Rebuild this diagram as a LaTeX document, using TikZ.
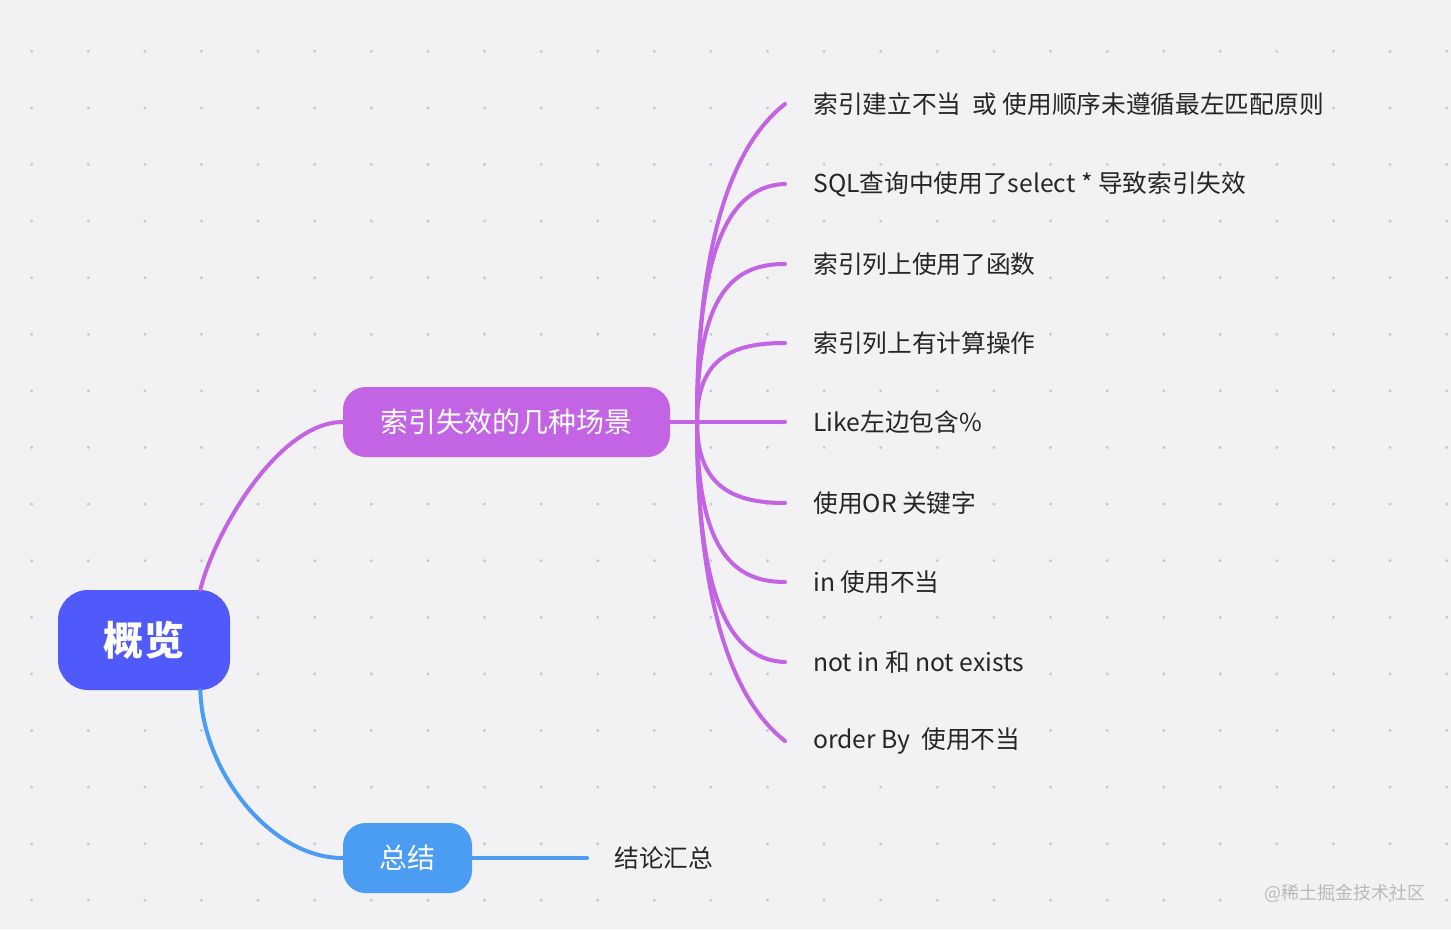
\documentclass[tikz,border=0pt]{standalone}
\usepackage{fontspec}
\setmainfont{Noto Sans CJK SC}
\usepackage{tikz}
\usepackage{xcolor}
\usetikzlibrary{positioning,calc}

\definecolor{canvas}{HTML}{F2F2F5}
\definecolor{dotgray}{HTML}{C6C7CC}
\definecolor{rootblue}{HTML}{5059F9}
\definecolor{topicpurple}{HTML}{C264E4}
\definecolor{topicblue}{HTML}{4A9DF3}
\definecolor{leafgray}{HTML}{262626}

\begin{document}
\begin{tikzpicture}[
    rootbox/.style={rectangle, rounded corners=0.6cm, fill=rootblue, text=white, minimum width=3.44cm, minimum height=2cm, inner sep=0pt, font=\fontsize{22.8}{26}\selectfont\bfseries},
    topic/.style={rectangle, rounded corners=0.45cm, text=white, minimum height=1.4cm, inner sep=0pt, font=\fontsize{15.9}{18}\selectfont},
    leaf/.style={anchor=west, inner xsep=0pt, inner ysep=3pt, fill=canvas, text=leafgray, font=\fontsize{14.05}{17}\selectfont},
    link/.style={line width=0.08cm, line cap=round},
    griddot/.style={fill=dotgray}
]

% Canvas
\fill[canvas] (0,0) rectangle (29.02,18.58);
\useasboundingbox (0,0) rectangle (29.02,18.58);

% Dot grid
\foreach \i in {0,...,25}
  \foreach \j in {0,...,15}
    \fill[griddot] (0.634+1.132*\i, 17.554-1.132*\j) circle (0.032);

% Main topics
\node[rootbox] (overview) at (2.88, 5.78) {概览};
\node[topic, fill=topicpurple, minimum width=6.54cm] (cases) at (10.13, 10.14) {索引失效的几种场景};
\node[topic, fill=topicblue, minimum width=2.58cm] (summary) at (8.15, 1.42) {总结};

% Branch point of the cases
\coordinate (fork) at (13.94, 10.14);

% Cases
\node[leaf] (c1) at (16.26, 16.50) {索引建立不当\ \ 或 使用顺序未遵循最左匹配原则};
\node[leaf] (c2) at (16.26, 14.90) {SQL查询中使用了select * 导致索引失效};
\node[leaf] (c3) at (16.26, 13.30) {索引列上使用了函数};
\node[leaf] (c4) at (16.26, 11.72) {索引列上有计算操作};
\node[leaf] (c5) at (16.26, 10.14) {Like左边包含\%};
\node[leaf] (c6) at (16.26, 8.52) {使用OR 关键字};
\node[leaf] (c7) at (16.26, 6.94) {in 使用不当};
\node[leaf] (c8) at (16.26, 5.34) {not in 和 not exists};
\node[leaf] (c9) at (16.26, 3.76) {order By\ \ 使用不当};

% Summary
\node[leaf] (s1) at (12.28, 1.42) {结论汇总};

% Connections
\draw[link, topicpurple] ([xshift=-0.6cm]overview.north east) .. controls +(0.3,1.2) and +(-1.26,0) .. (cases.west);
\draw[link, topicblue] ([xshift=-0.6cm]overview.south east) .. controls +(0.04,-1.6) and +(-1.46,0) .. (summary.west);
\draw[link, topicpurple] (cases.east) -- (fork);

\draw[link, topicpurple] (fork) .. controls +(0,3.22) and +(-1.2,-0.94) .. ([xshift=-0.56cm]c1.west);
\draw[link, topicpurple] (fork) .. controls +(0,3.02) and +(-1.3,-0.04) .. ([xshift=-0.56cm]c2.west);
\draw[link, topicpurple] (fork) .. controls +(0,2.62) and +(-1.0,0) .. ([xshift=-0.56cm]c3.west);
\draw[link, topicpurple] (fork) .. controls +(0,1.32) and +(-1.0,0) .. ([xshift=-0.56cm]c4.west);
\draw[link, topicpurple] (fork) -- ([xshift=-0.56cm]c5.west);
\draw[link, topicpurple] (fork) .. controls +(0,-1.32) and +(-1.0,0) .. ([xshift=-0.56cm]c6.west);
\draw[link, topicpurple] (fork) .. controls +(0,-2.62) and +(-1.0,0) .. ([xshift=-0.56cm]c7.west);
\draw[link, topicpurple] (fork) .. controls +(0,-3.02) and +(-1.3,0.04) .. ([xshift=-0.56cm]c8.west);
\draw[link, topicpurple] (fork) .. controls +(0,-3.22) and +(-1.2,0.94) .. ([xshift=-0.56cm]c9.west);

\draw[link, topicblue] (summary.east) -- ([xshift=-0.54cm]s1.west);

% Watermark
\node[text=gray!55, font=\fontsize{10.2}{12}\selectfont] (mark) at (26.9, 0.72) {@稀土掘金技术社区};

\end{tikzpicture}
\end{document}
